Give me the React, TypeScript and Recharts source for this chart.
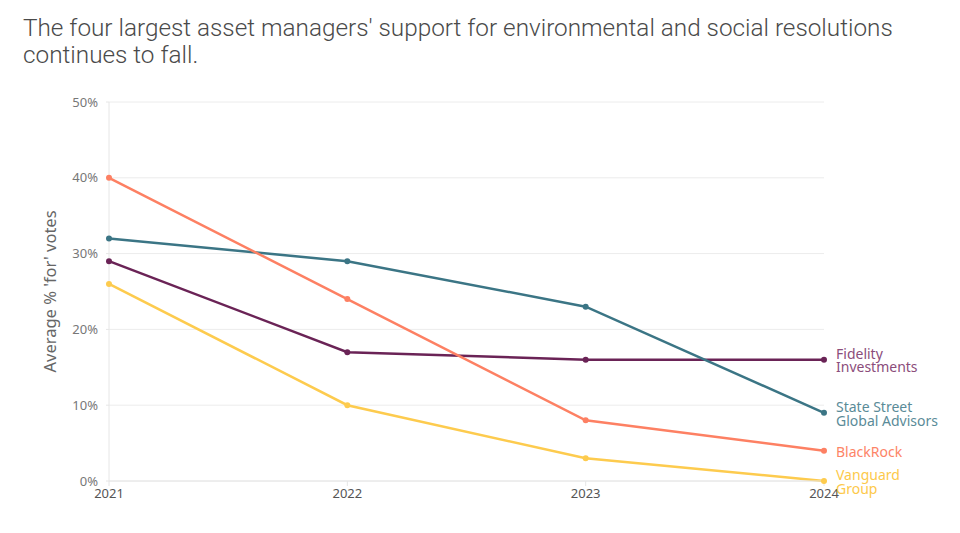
import { CartesianGrid, LabelList, Line, LineChart, XAxis, YAxis } from "recharts";

const YEARS = ["2021", "2022", "2023", "2024"];
const BLACKROCK = [40, 24, 8, 4];
const STATE_STREET = [32, 29, 23, 9];
const FIDELITY = [29, 17, 16, 16];
const VANGUARD = [26, 10, 3, 0];
const Y_TICKS = [0, 10, 20, 30, 40, 50];

const SERIES = [
  { key: "fidelity", name: ["Fidelity", "Investments"], color: "#6a2356", label: "#8b4d7b" },
  { key: "vanguard", name: ["Vanguard", "Group"], color: "#fdcb4e", label: "#fdc94a" },
  { key: "stateStreet", name: ["State Street", "Global Advisors"], color: "#3b7585", label: "#5a8b98" },
  { key: "blackrock", name: ["BlackRock"], color: "#fd8063", label: "#fd8467" },
];

const data = YEARS.map((year, i) => ({
  year,
  blackrock: BLACKROCK[i],
  stateStreet: STATE_STREET[i],
  fidelity: FIDELITY[i],
  vanguard: VANGUARD[i],
}));

const FONT = "'Noto Sans', sans-serif";
const LINE_GAP = 13.5;

function endLabel(lines: string[], color: string) {
  return (props: any) => {
    if (props.index !== YEARS.length - 1) return null;
    const x = Number(props.x) + 12;
    const y = Number(props.y);
    const start = y - ((lines.length - 1) * LINE_GAP) / 2;
    return (
      <text x={x} fill={color} fontSize={14} fontFamily={FONT} dominantBaseline="central">
        {lines.map((l, i) => (
          <tspan key={l} x={x} y={start + i * LINE_GAP}>
            {l}
          </tspan>
        ))}
      </text>
    );
  };
}

export default function App() {
  return (
    <div style={{ position: "absolute", left: 0, top: 0, width: 960, height: 533, background: "#fff" }}>
      <div
        style={{
          position: "absolute",
          left: 23,
          top: 14,
          width: 930,
          fontFamily: "Roboto, sans-serif",
          fontWeight: 300,
          fontSize: 24.3,
          lineHeight: "27px",
          color: "#4a4a4a",
          whiteSpace: "nowrap",
        }}
      >
        The four largest asset managers' support for environmental and social resolutions
        <br />
        continues to fall.
      </div>
      <div style={{ position: "absolute", left: 0, top: 0 }}>
        <LineChart width={960} height={533} data={data} margin={{ top: 102, right: 136, bottom: 22, left: 42 }}>
          <CartesianGrid vertical={false} stroke="#ececec" />
          <XAxis
            dataKey="year"
            stroke="#e6e6e6"
            tickSize={5}
            tickMargin={3}
            height={30}
            tick={{ fill: "#555", fontSize: 13, fontFamily: FONT }}
          />
          <YAxis
            domain={[0, 50]}
            ticks={Y_TICKS}
            width={67}
            stroke="#e6e6e6"
            tickSize={3}
            tickMargin={8}
            tickFormatter={(v) => `${v}%`}
            tick={{ fill: "#777", fontSize: 13, fontFamily: FONT }}
            label={{
              value: "Average % 'for' votes",
              angle: -90,
              position: "insideLeft",
              offset: 8,
              style: { textAnchor: "middle", fill: "#666", fontSize: 16.5, fontFamily: FONT },
            }}
          />
          {SERIES.map((s) => (
            <Line
              key={s.key}
              dataKey={s.key}
              stroke={s.color}
              strokeWidth={2.5}
              dot={{ r: 3, fill: s.color, stroke: s.color, strokeWidth: 0 }}
              isAnimationActive={false}
            >
              <LabelList dataKey={s.key} content={endLabel(s.name, s.label)} />
            </Line>
          ))}
        </LineChart>
      </div>
    </div>
  );
}
